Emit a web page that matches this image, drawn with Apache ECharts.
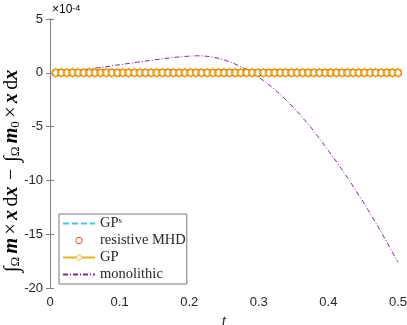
<!DOCTYPE html>
<html>
<head>
<meta charset="utf-8">
<script src="https://cdn.jsdelivr.net/npm/echarts@6/dist/echarts.min.js"></script>
<style>
  html, body { margin: 0; padding: 0; background: #fff; }
  #chart { width: 407px; height: 325px; }
</style>
</head>
<body>
<div id="chart"></div>
<script>
// time steps of the marker series (t)
var timeSteps = [0.0081, 0.0161, 0.0242, 0.0323, 0.0403, 0.0484, 0.0565, 0.0645, 0.0726, 0.0806,
  0.0887, 0.0968, 0.1048, 0.1129, 0.1210, 0.1290, 0.1371, 0.1452, 0.1532, 0.1613,
  0.1694, 0.1774, 0.1855, 0.1935, 0.2016, 0.2097, 0.2177, 0.2258, 0.2339, 0.2419,
  0.2500, 0.2581, 0.2661, 0.2742, 0.2823, 0.2903, 0.2984, 0.3065, 0.3145, 0.3226,
  0.3306, 0.3387, 0.3468, 0.3548, 0.3629, 0.3710, 0.3790, 0.3871, 0.3952, 0.4032,
  0.4113, 0.4194, 0.4274, 0.4355, 0.4435, 0.4516, 0.4597, 0.4677, 0.4758, 0.4839,
  0.4919, 0.5000];

// deviations in units of 1e-4
var gpsDev = [0,0,0,0,0,0,0,0,0,0, 0,0,0,0,0,0,0,0,0,0, 0,0,0,0,0,0,0,0,0,0,
  0,0,0,0,0,0,0,0,0,0, 0,0,0,0,0,0,0,0,0,0, 0,0,0,0,0,0,0,0,0,0, 0,0];
var mhdDev = [0,0,0,0,0,0,0,0,0,0, 0,0,0,0,0,0,0,0,0,0, 0,0,0,0,0,0,0,0,0,0,
  0,0,0,0,0,0,0,0,0,0, 0,0,0,0,0,0,0,0,0,0, 0,0,0,0,0,0,0,0,0,0, 0,0];
var gpDev = [0,0,0,0,0,0,0,0,0,0, 0,0,0,0,0,0,0,0,0,0, 0,0,0,0,0,0,0,0,0,0,
  0,0,0,0,0,0,0,0,0,0, 0,0,0,0,0,0,0,0,0,0, 0,0,0,0,0,0,0,0,0,0, 0,0];

var monoT = [0.008, 0.03, 0.05, 0.075, 0.1, 0.125, 0.15, 0.17, 0.19, 0.2, 0.21, 0.22, 0.23, 0.24,
  0.25, 0.26, 0.27, 0.28, 0.29, 0.30, 0.31, 0.32, 0.33, 0.34, 0.35, 0.36, 0.374, 0.39, 0.412,
  0.43, 0.45, 0.475, 0.5];
var monoDev = [0, 0.16, 0.31, 0.52, 0.75, 0.98, 1.2, 1.37, 1.5, 1.55, 1.58, 1.57, 1.5, 1.38,
  1.2, 0.98, 0.7, 0.37, 0.0, -0.42, -0.88, -1.4, -1.97, -2.58, -3.25, -3.95, -5.0, -6.35, -8.3,
  -10.0, -12.0, -14.7, -17.6];

var xTicks = [0, 0.1, 0.2, 0.3, 0.4, 0.5];
var yTicks = [-20, -15, -10, -5, 0, 5];

function pairs(xs, ys) {
  return xs.map(function (x, i) { return [x, ys[i]]; });
}

var chart = echarts.init(document.getElementById('chart'));
var axisGray = '#808080';
var txt = '#262626';
var serif = '"Liberation Serif", "DejaVu Serif", serif';
var sans = '"Liberation Sans", Arial, sans-serif';

var valueAxisBase = {
  axisLine: { show: true, lineStyle: { color: axisGray, width: 1 } },
  axisTick: { show: true, inside: true, length: 4, lineStyle: { color: axisGray } },
  splitLine: { show: false }
};

chart.setOption({
  animation: false,
  grid: { left: 50, right: 9, top: 19, bottom: 37, containLabel: false, outerBoundsMode: 'none' },
  xAxis: [
    Object.assign({}, valueAxisBase, {
      type: 'value', min: xTicks[0], max: xTicks[xTicks.length - 1], interval: 0.1,
      axisLabel: { color: txt, fontSize: 13, fontFamily: sans, margin: 8 },
      name: 't', nameLocation: 'middle', nameGap: 19,
      nameTextStyle: { color: txt, fontFamily: serif, fontStyle: 'italic', fontSize: 16 }
    }),
    Object.assign({}, valueAxisBase, {
      type: 'value', position: 'top', min: 0, max: 0.5, interval: 0.1,
      axisLabel: { show: false }
    })
  ],
  yAxis: [
    Object.assign({}, valueAxisBase, {
      type: 'value', min: yTicks[0], max: yTicks[yTicks.length - 1], interval: 5,
      axisLabel: { color: txt, fontSize: 13, fontFamily: sans, margin: 7 }
    }),
    Object.assign({}, valueAxisBase, {
      type: 'value', position: 'right', min: -20, max: 5, interval: 5,
      axisLabel: { show: false }
    })
  ],
  legend: {
    left: 59, top: 214,
    orient: 'vertical',
    backgroundColor: '#fff',
    borderColor: '#7a7a7a', borderWidth: 1, borderRadius: 0,
    padding: [2, 1, 2, 3],
    itemWidth: 32, itemHeight: 8, itemGap: 2,
    textStyle: {
      color: txt, fontFamily: serif, fontSize: 14.5, lineHeight: 14,
      rich: { sup: { fontSize: 9, verticalAlign: 'top', fontFamily: serif, color: txt } }
    },
    formatter: function (name) { return name === 'GPs' ? 'GP{sup|s}' : name; },
    data: [
      { name: 'GPs', itemStyle: { opacity: 0 } },
      { name: 'resistive MHD', itemStyle: { color: '#fff', borderColor: '#D95319', borderWidth: 1 } },
      { name: 'GP', itemStyle: { color: '#fff', borderColor: '#EDB120', borderWidth: 1 } },
      { name: 'monolithic', itemStyle: { opacity: 0 } }
    ]
  },
  graphic: [
    {
      type: 'text', x: 12, y: 171, rotation: Math.PI / 2,
      style: {
        text: '{i|∫}{s|Ω} {b|m} {n|×} {b|x} {n|d}{b|x}  {n|−}  {i|∫}{s|Ω} {b|m}{s|0} {n|×} {b|x} {n|d}{b|x}',
        align: 'center', verticalAlign: 'middle',
        rich: {
          n: { fontFamily: serif, fontSize: 20, color: txt },
          i: { fontFamily: serif, fontSize: 21, color: txt },
          b: { fontFamily: serif, fontSize: 20, fontWeight: 'bold', fontStyle: 'italic', color: txt },
          s: { fontFamily: serif, fontSize: 13, verticalAlign: 'bottom', color: txt }
        }
      }
    },
    {
      type: 'text', x: 52, y: 4,
      style: {
        text: '{n|×10}{p|-4}',
        rich: {
          n: { fontFamily: sans, fontSize: 12, color: txt },
          p: { fontFamily: sans, fontSize: 9, verticalAlign: 'top', color: txt }
        }
      }
    }
  ],
  series: [
    {
      name: 'GPs', type: 'line', data: pairs(timeSteps, gpsDev),
      symbol: 'none', lineStyle: { color: '#4DBEEE', width: 1.2, type: [6, 3] },
      itemStyle: { color: '#4DBEEE' }
    },
    {
      name: 'resistive MHD', type: 'line', data: pairs(timeSteps, mhdDev),
      symbol: 'circle', symbolSize: 7, showAllSymbol: true,
      lineStyle: { width: 0, opacity: 0 },
      itemStyle: { color: '#fff', borderColor: '#D95319', borderWidth: 1.2 }
    },
    {
      name: 'GP', type: 'line', data: pairs(timeSteps, gpDev),
      symbol: 'diamond', symbolSize: [7, 9], showAllSymbol: true,
      lineStyle: { color: '#EDB120', width: 1 },
      itemStyle: { color: 'rgba(255,255,255,0)', borderColor: '#EDB120', borderWidth: 1.2 }
    },
    {
      name: 'monolithic', type: 'line', data: pairs(monoT, monoDev),
      symbol: 'none',
      lineStyle: { color: '#7E2F8E', width: 1, type: [5, 2, 1, 2] },
      itemStyle: { color: '#7E2F8E' }
    }
  ]
});
</script>
</body>
</html>
